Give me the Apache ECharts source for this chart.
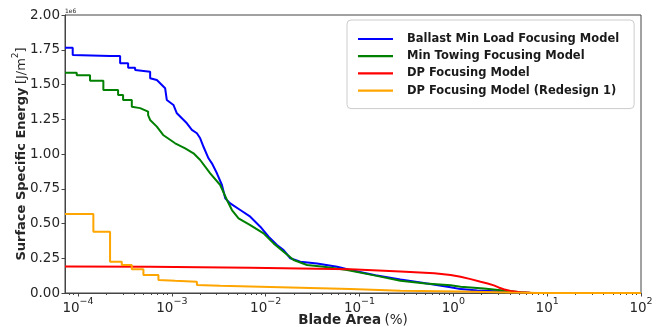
<!DOCTYPE html>
<html>
<head>
<meta charset="utf-8">
<script src="https://cdn.jsdelivr.net/npm/echarts@6/dist/echarts.min.js"></script>
<style>
  html, body { margin: 0; padding: 0; background: #ffffff; }
  #chart { width: 667px; height: 327px; }
</style>
</head>
<body>
<div id="chart"></div>
<script>
// Exceedance curves: [blade area in %, surface specific energy in 1e6 J/m^2]
const seriesNames = [
  'Ballast Min Load Focusing Model',
  'Min Towing Focusing Model',
  'DP Focusing Model',
  'DP Focusing Model (Redesign 1)'
];
const seriesColors = ['#0000ff', '#008000', '#ff0000', '#ffa500'];

const ballastMinLoad = [
  [7.265e-5, 1.765], [8.78e-5, 1.765], [8.78e-5, 1.712], [2.2e-4, 1.705],
  [2.81e-4, 1.705], [2.81e-4, 1.652], [3.42e-4, 1.652], [3.42e-4, 1.621],
  [4.06e-4, 1.621], [4.06e-4, 1.604], [4.26e-4, 1.592], [5.87e-4, 1.592],
  [5.87e-4, 1.545], [6.92e-4, 1.532], [7.5e-4, 1.509], [8.48e-4, 1.473],
  [8.84e-4, 1.388], [1.04e-3, 1.353], [1.131e-3, 1.293], [1.279e-3, 1.257],
  [1.446e-3, 1.221], [1.635e-3, 1.173], [1.849e-3, 1.149], [2.005e-3, 1.113],
  [2.174e-3, 1.052], [2.458e-3, 0.969], [2.673e-3, 0.933], [3.022e-3, 0.861],
  [3.418e-3, 0.777], [3.706e-3, 0.681], [4.191e-3, 0.645], [5.358e-3, 0.597],
  [6.849e-3, 0.549], [8.758e-3, 0.477], [1.074e-2, 0.405], [1.32e-2, 0.345],
  [1.552e-2, 0.309], [1.83e-2, 0.250], [2.34e-2, 0.225], [3.528e-2, 0.213],
  [5.768e-2, 0.189], [8.0e-2, 0.165], [0.148, 0.128], [0.273, 0.098],
  [0.505, 0.070], [0.934, 0.042], [1.194, 0.028], [1.8, 0.018],
  [3.19, 0.010], [5.21, 0.003], [6.67, 0], [100, 0]
];

const minTowing = [
  [7.265e-5, 1.585], [9.69e-5, 1.585], [9.69e-5, 1.566], [1.343e-4, 1.566],
  [1.343e-4, 1.527], [1.862e-4, 1.527], [1.862e-4, 1.460], [2.673e-4, 1.460],
  [2.673e-4, 1.424], [3.022e-4, 1.424], [3.022e-4, 1.388], [3.743e-4, 1.388],
  [3.743e-4, 1.340], [4.589e-4, 1.330], [4.589e-4, 1.317], [5.585e-4, 1.305],
  [5.585e-4, 1.280], [5.866e-4, 1.245], [6.918e-4, 1.197], [8.074e-4, 1.137],
  [1.084e-3, 1.077], [1.387e-3, 1.040], [1.701e-3, 1.005], [2.005e-3, 0.957],
  [2.563e-3, 0.861], [3.278e-3, 0.777], [3.864e-3, 0.669], [4.369e-3, 0.597],
  [5.139e-3, 0.537], [6.849e-3, 0.489], [9.497e-3, 0.429], [1.214e-2, 0.357],
  [1.552e-2, 0.297], [1.985e-2, 0.237], [2.76e-2, 0.201], [4.149e-2, 0.189],
  [7.377e-2, 0.165], [0.148, 0.125], [0.273, 0.088], [0.505, 0.068],
  [0.934, 0.055], [1.194, 0.045], [2.116, 0.032], [3.19, 0.020],
  [3.76, 0.014], [5.21, 0.005], [6.67, 0], [100, 0]
];

const dpFocusing = [
  [7.265e-5, 0.190], [5.87e-4, 0.188], [2.0e-3, 0.185], [6.85e-3, 0.182],
  [2.34e-2, 0.177], [8.0e-2, 0.170], [0.273, 0.155], [0.627, 0.142],
  [0.934, 0.130], [1.194, 0.117], [1.53, 0.100], [1.95, 0.081],
  [2.32, 0.068], [2.70, 0.055], [3.04, 0.040], [3.43, 0.027],
  [4.08, 0.014], [5.21, 0.006], [6.67, 0.002], [10, 0.0005], [100, 0]
];

const dpRedesign1 = [
  [7.265e-5, 0.568], [1.457e-4, 0.568], [1.457e-4, 0.441], [2.195e-4, 0.441],
  [2.195e-4, 0.225], [2.927e-4, 0.225], [2.927e-4, 0.201], [3.743e-4, 0.201],
  [3.743e-4, 0.170], [4.976e-4, 0.170], [4.976e-4, 0.130], [7.194e-4, 0.130],
  [7.194e-4, 0.094], [1.084e-3, 0.088], [1.849e-3, 0.081], [1.849e-3, 0.058],
  [3.278e-3, 0.052], [8.758e-3, 0.045], [2.34e-2, 0.038], [8.0e-2, 0.028],
  [0.273, 0.017], [1.194, 0.010], [4.08, 0.003], [8.52, 0], [100, 0]
];

const seriesData = [ballastMinLoad, minTowing, dpFocusing, dpRedesign1];

// Axis extents and ticks
const xMin = 7.265e-5;
const xMax = 100;
const xMajorTicks = [1e-4, 1e-3, 1e-2, 1e-1, 1, 10, 100];
const yMin = 0;
const yMax = 2;
const yStep = 0.25;

// Minor ticks at 2..9 x 10^k inside the x range
const xMinorTicks = [];
for (let k = -5; k <= 1; k++) {
  for (let m = 2; m <= 9; m++) {
    const v = m * Math.pow(10, k);
    if (v >= xMin && v <= xMax) xMinorTicks.push(v);
  }
}

const FONT = 'DejaVu Sans';
const INK = '#262626';
const SPINE = '#444444';

function powerLabel(v) {
  const e = Math.round(Math.log10(v));
  const exp = (e < 0 ? '\u2212' : '') + Math.abs(e);
  return '{b|10}{s|' + exp + '}';
}

const chart = echarts.init(document.getElementById('chart'), null, { renderer: 'canvas' });

chart.setOption({
  animation: false,
  backgroundColor: '#ffffff',
  grid: {
    left: 65, right: 26, top: 15, bottom: 34,
    outerBoundsMode: 'none', containLabel: false,
    show: true, borderColor: SPINE, borderWidth: 1, backgroundColor: 'transparent'
  },
  graphic: [{
    type: 'text', left: 65, top: 8,
    style: { text: '1e6', fontSize: 6, fontFamily: FONT, fill: INK }
  }],
  legend: {
    orient: 'vertical',
    left: 347, top: 20,
    padding: [12, 15, 11, 11],
    itemGap: 3.2,
    itemWidth: 35,
    itemHeight: 2.2,
    icon: 'rect',
    borderColor: '#cccccc', borderWidth: 1, borderRadius: 4,
    backgroundColor: 'rgba(255,255,255,0.85)',
    data: seriesNames,
    textStyle: {
      fontFamily: FONT, fontWeight: 'bold', fontSize: 11.5, color: '#1a1a1a',
      lineHeight: 14, padding: [0, 0, 0, 9]
    }
  },
  xAxis: [{
    type: 'log', logBase: 10, min: xMin, max: xMax,
    name: '{b|Blade Area} {r|(%)}',
    nameLocation: 'middle', nameGap: 20, nameMoveOverlap: false,
    nameTextStyle: {
      rich: {
        b: { fontFamily: FONT, fontWeight: 'bold', fontSize: 13.5, color: INK },
        r: { fontFamily: FONT, fontSize: 13.5, color: INK }
      }
    },
    axisLine: { show: true, lineStyle: { color: SPINE, width: 1 } },
    axisTick: { show: true, inside: false, length: 3.5, customValues: xMajorTicks, lineStyle: { color: SPINE } },
    axisLabel: {
      customValues: xMajorTicks, margin: 4, formatter: powerLabel,
      rich: {
        b: { fontFamily: FONT, fontSize: 13.5, color: INK, verticalAlign: 'bottom', lineHeight: 18 },
        s: { fontFamily: FONT, fontSize: 9.5, color: INK, verticalAlign: 'top', lineHeight: 11 }
      }
    },
    splitLine: { show: false }
  }, {
    type: 'log', logBase: 10, min: xMin, max: xMax,
    position: 'bottom', gridIndex: 0,
    axisLine: { show: false },
    axisTick: { show: true, inside: false, length: 2, customValues: xMinorTicks, lineStyle: { color: SPINE } },
    axisLabel: { show: false },
    splitLine: { show: false }
  }],
  yAxis: {
    type: 'value', min: yMin, max: yMax, interval: yStep,
    name: '{b|Surface Specific Energy} {r|[J/m}{s|2}{r|]}',
    nameLocation: 'middle', nameGap: 37, nameRotate: 90, nameMoveOverlap: false,
    nameTextStyle: {
      rich: {
        b: { fontFamily: FONT, fontWeight: 'bold', fontSize: 13, color: INK, verticalAlign: 'bottom', lineHeight: 17 },
        r: { fontFamily: FONT, fontSize: 13, color: INK, verticalAlign: 'bottom', lineHeight: 17 },
        s: { fontFamily: FONT, fontSize: 9, color: INK, verticalAlign: 'top', lineHeight: 11 }
      }
    },
    axisLine: { show: true, lineStyle: { color: SPINE, width: 1 } },
    axisTick: { show: true, inside: false, length: 3.5, lineStyle: { color: SPINE } },
    axisLabel: {
      margin: 5, fontFamily: FONT, fontSize: 13.5, color: INK,
      formatter: function (v) { return v.toFixed(2); }
    },
    splitLine: { show: false }
  },
  series: seriesNames.map(function (name, i) {
    return {
      name: name,
      type: 'line',
      xAxisIndex: 0,
      data: seriesData[i],
      symbol: 'none',
      showSymbol: false,
      lineStyle: { color: seriesColors[i], width: 2 },
      itemStyle: { color: seriesColors[i] },
      clip: true
    };
  })
});
</script>
</body>
</html>
